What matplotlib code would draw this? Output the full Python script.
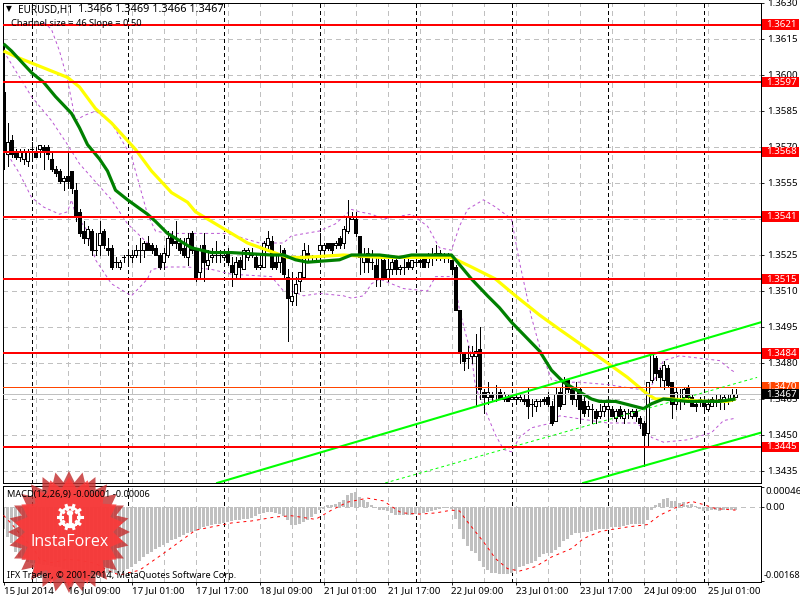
import numpy as np
import matplotlib
matplotlib.use("Agg")
import matplotlib.pyplot as plt
from matplotlib.patches import Rectangle, Polygon, Circle
from matplotlib.lines import Line2D
from matplotlib.transforms import blended_transform_factory

plt.rcParams['font.family'] = ['Noto Sans', 'DejaVu Sans']
plt.rcParams['lines.antialiased'] = False
plt.rcParams['patch.antialiased'] = False

# hourly candles, EURUSD
opens = [1.3593,1.3567,1.3573,1.3568,1.3566,1.3565,1.3564,1.3569,1.3568,1.3569,
         1.3570,1.3570,1.3565,1.3561,1.3560,1.3556,1.3558,1.3560,1.3552,1.3543,
         1.3535,1.3532,1.3535,1.3527,1.3529,1.3535,1.3528,1.3528,1.3522,1.3520,
         1.3524,1.3525,1.3524,1.3525,1.3527,1.3527,1.3530,1.3529,1.3528,1.3525,
         1.3522,1.3525,1.3533,1.3531,1.3530,1.3528,1.3524,1.3534,1.3527,1.3518,
         1.3529,1.3521,1.3524,1.3525,1.3525,1.3524,1.3526,1.3521,1.3517,1.3523,
         1.3519,1.3524,1.3526,1.3524,1.3520,1.3520,1.3529,1.3531,1.3522,1.3522,
         1.3527,1.3516,1.3506,1.3509,1.3514,1.3516,1.3526,1.3524,1.3523,1.3527,
         1.3527,1.3530,1.3530,1.3529,1.3532,1.3530,1.3535,1.3540,1.3540,1.3533,
         1.3522,1.3526,1.3522,1.3521,1.3515,1.3523,1.3515,1.3519,1.3523,1.3519,
         1.3520,1.3522,1.3520,1.3522,1.3523,1.3524,1.3522,1.3524,1.3526,1.3526,
         1.3525,1.3524,1.3523,1.3520,1.3502,1.3484,1.3482,1.3483,1.3483,1.3486,
         1.3468,1.3466,1.3467,1.3467,1.3468,1.3465,1.3466,1.3465,1.3465,1.3465,
         1.3465,1.3465,1.3463,1.3462,1.3464,1.3465,1.3466,1.3462,1.3456,1.3468,
         1.3463,1.3473,1.3469,1.3465,1.3469,1.3464,1.3461,1.3461,1.3460,1.3458,
         1.3460,1.3461,1.3461,1.3457,1.3461,1.3457,1.3459,1.3458,1.3460,1.3457,
         1.3455,1.3451,1.3473,1.3482,1.3477,1.3473,1.3478,1.3472,1.3463,1.3467,
         1.3466,1.3470,1.3466,1.3463,1.3465,1.3464,1.3461,1.3462,1.3464,1.3465,
         1.3464,1.3465,1.3465,1.3466]
closes = [1.3568,1.3572,1.3567,1.3566,1.3568,1.3568,1.3568,1.3569,1.3566,1.3571,
          1.3568,1.3567,1.3561,1.3559,1.3556,1.3557,1.3556,1.3553,1.3541,1.3534,
          1.3532,1.3536,1.3527,1.3527,1.3534,1.3529,1.3527,1.3520,1.3522,1.3522,
          1.3524,1.3525,1.3525,1.3527,1.3527,1.3530,1.3527,1.3527,1.3525,1.3520,
          1.3526,1.3532,1.3530,1.3530,1.3527,1.3525,1.3532,1.3527,1.3516,1.3527,
          1.3522,1.3523,1.3525,1.3525,1.3525,1.3525,1.3522,1.3518,1.3522,1.3520,
          1.3527,1.3527,1.3525,1.3520,1.3521,1.3530,1.3532,1.3520,1.3520,1.3526,
          1.3517,1.3507,1.3508,1.3513,1.3518,1.3527,1.3524,1.3524,1.3523,1.3529,
          1.3529,1.3528,1.3527,1.3530,1.3529,1.3536,1.3541,1.3541,1.3534,1.3524,
          1.3524,1.3522,1.3522,1.3515,1.3524,1.3515,1.3519,1.3522,1.3519,1.3520,
          1.3520,1.3520,1.3523,1.3522,1.3522,1.3520,1.3524,1.3524,1.3524,1.3524,
          1.3524,1.3524,1.3519,1.3502,1.3484,1.3481,1.3482,1.3484,1.3485,1.3469,
          1.3466,1.3468,1.3466,1.3467,1.3465,1.3467,1.3464,1.3466,1.3466,1.3466,
          1.3464,1.3462,1.3463,1.3464,1.3464,1.3464,1.3463,1.3455,1.3467,1.3462,
          1.3473,1.3469,1.3465,1.3469,1.3461,1.3459,1.3462,1.3461,1.3457,1.3460,
          1.3462,1.3462,1.3458,1.3460,1.3458,1.3460,1.3459,1.3460,1.3458,1.3455,
          1.3450,1.3472,1.3484,1.3476,1.3474,1.3479,1.3471,1.3463,1.3468,1.3467,
          1.3469,1.3466,1.3462,1.3462,1.3465,1.3462,1.3463,1.3465,1.3464,1.3464,
          1.3466,1.3465,1.3467,1.3467]
highs = [1.3612,1.3580,1.3575,1.3569,1.3569,1.3569,1.3569,1.3572,1.3570,1.3571,
         1.3571,1.3571,1.3568,1.3562,1.3561,1.3558,1.3568,1.3560,1.3555,1.3544,
         1.3539,1.3537,1.3536,1.3534,1.3539,1.3536,1.3532,1.3529,1.3524,1.3523,
         1.3525,1.3526,1.3527,1.3529,1.3532,1.3531,1.3533,1.3530,1.3529,1.3526,
         1.3528,1.3535,1.3535,1.3539,1.3532,1.3532,1.3534,1.3535,1.3528,1.3529,
         1.3534,1.3527,1.3528,1.3531,1.3527,1.3527,1.3528,1.3524,1.3524,1.3524,
         1.3528,1.3528,1.3528,1.3525,1.3525,1.3531,1.3535,1.3533,1.3525,1.3529,
         1.3528,1.3519,1.3518,1.3516,1.3518,1.3530,1.3529,1.3525,1.3524,1.3534,
         1.3530,1.3530,1.3530,1.3531,1.3533,1.3537,1.3548,1.3543,1.3543,1.3533,
         1.3528,1.3528,1.3527,1.3525,1.3525,1.3525,1.3524,1.3524,1.3524,1.3521,
         1.3524,1.3524,1.3523,1.3525,1.3524,1.3525,1.3526,1.3528,1.3529,1.3527,
         1.3526,1.3526,1.3524,1.3521,1.3502,1.3484,1.3487,1.3487,1.3492,1.3495,
         1.3469,1.3472,1.3468,1.3471,1.3469,1.3468,1.3467,1.3467,1.3467,1.3467,
         1.3467,1.3470,1.3465,1.3465,1.3465,1.3466,1.3468,1.3464,1.3470,1.3470,
         1.3474,1.3473,1.3470,1.3472,1.3470,1.3466,1.3464,1.3463,1.3461,1.3463,
         1.3464,1.3465,1.3462,1.3461,1.3462,1.3461,1.3461,1.3461,1.3461,1.3458,
         1.3456,1.3472,1.3484,1.3483,1.3478,1.3481,1.3479,1.3472,1.3470,1.3469,
         1.3470,1.3471,1.3467,1.3464,1.3466,1.3465,1.3465,1.3466,1.3467,1.3467,
         1.3467,1.3467,1.3469,1.3469]
lows = [1.3561,1.3562,1.3566,1.3565,1.3564,1.3563,1.3562,1.3566,1.3566,1.3566,
        1.3561,1.3565,1.3560,1.3558,1.3555,1.3552,1.3553,1.3551,1.3539,1.3533,
        1.3530,1.3529,1.3525,1.3525,1.3525,1.3528,1.3525,1.3519,1.3520,1.3519,
        1.3522,1.3522,1.3522,1.3524,1.3522,1.3524,1.3527,1.3526,1.3525,1.3519,
        1.3519,1.3524,1.3529,1.3528,1.3526,1.3524,1.3521,1.3526,1.3514,1.3515,
        1.3514,1.3519,1.3522,1.3522,1.3522,1.3523,1.3521,1.3512,1.3515,1.3516,
        1.3519,1.3523,1.3524,1.3519,1.3519,1.3520,1.3527,1.3519,1.3519,1.3518,
        1.3516,1.3489,1.3504,1.3504,1.3510,1.3515,1.3522,1.3522,1.3522,1.3523,
        1.3524,1.3527,1.3526,1.3528,1.3528,1.3528,1.3534,1.3540,1.3533,1.3517,
        1.3518,1.3518,1.3519,1.3512,1.3512,1.3515,1.3514,1.3517,1.3517,1.3517,
        1.3517,1.3519,1.3519,1.3521,1.3520,1.3520,1.3520,1.3521,1.3523,1.3523,
        1.3522,1.3522,1.3517,1.3502,1.3480,1.3477,1.3478,1.3480,1.3462,1.3465,
        1.3459,1.3463,1.3464,1.3464,1.3465,1.3464,1.3464,1.3465,1.3463,1.3464,
        1.3463,1.3457,1.3458,1.3460,1.3462,1.3463,1.3462,1.3454,1.3456,1.3461,
        1.3463,1.3468,1.3463,1.3462,1.3455,1.3458,1.3458,1.3455,1.3455,1.3457,
        1.3458,1.3456,1.3458,1.3456,1.3457,1.3455,1.3457,1.3457,1.3456,1.3453,
        1.3437,1.3445,1.3472,1.3473,1.3470,1.3469,1.3470,1.3457,1.3461,1.3461,
        1.3463,1.3464,1.3462,1.3460,1.3462,1.3461,1.3460,1.3462,1.3462,1.3461,
        1.3461,1.3463,1.3464,1.3466]

# moving averages, read at their bends
green_x = [0,2,7,10,13,17,19,21,24,26,28,31,36,38,41,44,47,52,57,67,70,73,76,84,87,94,99,102,112,114,
           117,121,124,127,134,137,140,142,147,149,153,160,162,165,171,177,179,183]
green_y = [1.3613,1.3610,1.3601,1.3597,1.3591,1.3584,1.3578,1.3571,1.3565,1.3560,1.3552,1.3548,1.3542,
           1.3539,1.3534,1.3531,1.3528,1.3526,1.3526,1.3525,1.3525,1.3523,1.3522,1.3523,1.3525,1.3525,
           1.3524,1.3525,1.3525,1.3521,1.3515,1.3508,1.3503,1.3497,1.3485,1.3477,1.3472,1.3470,1.3465,
           1.3464,1.3464,1.3461,1.3463,1.3465,1.3464,1.3464,1.3464,1.3465]
yellow_x = [0,4,10,16,19,23,27,33,37,42,46,48,53,57,61,66,71,75,85,94,103,112,117,123,128,134,139,145,
            151,156,161,163,167,176,181,183]
yellow_y = [1.3610,1.3607,1.3603,1.3599,1.3595,1.3586,1.3580,1.3569,1.3560,1.3551,1.3547,1.3543,1.3538,
            1.3534,1.3530,1.3527,1.3524,1.3524,1.3525,1.3524,1.3524,1.3524,1.3520,1.3515,1.3508,1.3500,
            1.3494,1.3487,1.3480,1.3474,1.3467,1.3465,1.3465,1.3464,1.3464,1.3465]

# purple bands
upper_x = [10,12,14,16,18,20,23,27,32,36,38,41,49,56,64,67,70,72,79,83,87,89,92,95,102,106,109,112,114,116,
           120,123,127,129,132,134,137,140,144,151,159,161,165,169,179,182,183]
upper_y = [1.3622,1.3619,1.3610,1.3598,1.3581,1.3583,1.3585,1.3580,1.3566,1.3542,1.3535,1.3534,1.3534,1.3534,
           1.3530,1.3530,1.3530,1.3533,1.3535,1.3538,1.3544,1.3543,1.3542,1.3540,1.3542,1.3537,1.3528,1.3527,
           1.3537,1.3544,1.3548,1.3545,1.3540,1.3522,1.3499,1.3487,1.3473,1.3472,1.3472,1.3471,1.3469,1.3467,
           1.3481,1.3483,1.3481,1.3477,1.3476]
mid_x = [0,7,12,16,19,27,31,36]
mid_y = [1.3610,1.3591,1.3581,1.3571,1.3563,1.3548,1.3538,1.3530]
lower_x = [1,4,7,10,14,16,17,18,21,23,27,32,36,37,41,46,52,57,67,70,72,75,79,85,87,90,92,94,100,106,108,112,113,
           114,117,118,120,123,125,127,129,132,137,139,143,151,158,161,162,165,171,177,180,183]
lower_y = [1.3567,1.3559,1.3549,1.3545,1.3542,1.3543,1.3548,1.3542,1.3535,1.3523,1.3513,1.3508,1.3515,1.3519,
           1.3520,1.3520,1.3519,1.3517,1.3516,1.3510,1.3510,1.3508,1.3509,1.3508,1.3507,1.3508,1.3513,1.3515,
           1.3511,1.3510,1.3516,1.3516,1.3512,1.3502,1.3483,1.3470,1.3462,1.3450,1.3444,1.3443,1.3449,1.3453,
           1.3455,1.3458,1.3457,1.3455,1.3455,1.3452,1.3449,1.3447,1.3448,1.3451,1.3456,1.3457]

# regression channel ends: (bar, price)
chan_top_x = [53.4, 189.4]
chan_top_y = [1.3430, 1.3497]
chan_low_x = [144.9, 189.4]
chan_low_y = [1.3430, 1.3451]
chan_mid_x = [95.4, 188.4]
chan_mid_y = [1.3430, 1.3474]

levels = [1.3621, 1.3597, 1.3568, 1.3541, 1.3515, 1.3484, 1.3445]
price_ticks = [1.3630, 1.3615, 1.3600, 1.3585, 1.3570, 1.3555, 1.3540, 1.3525, 1.3510,
               1.3495, 1.3480, 1.3465, 1.3450, 1.3435]

# MACD histogram and signal, in 1e-5
hist = [-54,-75,-91,-112,-126,-133,-137,-139,-141,-143,
        -144,-145,-147,-149,-151,-154,-155,-158,-161,-163,
        -164,-166,-168,-168,-168,-166,-165,-164,-164,-162,
        -159,-154,-149,-143,-134,-126,-118,-112,-106,-101,
        -95,-90,-83,-79,-75,-71,-66,-63,-60,-56,
        -51,-48,-46,-43,-42,-40,-37,-35,-33,-33,
        -31,-29,-27,-22,-18,-15,-13,-12,-15,-18,
        -23,-33,-46,-46,-43,-37,-33,-25,-17,-8,
        -4,4,6,8,12,17,29,35,37,25,
        18,12,6,-2,-8,-8,-10,-15,-19,-19,
        -21,-19,-19,-17,-17,-15,-12,-10,-7,-4,
        -2,-2,-4,-29,-56,-81,-98,-110,-116,-134,
        -149,-158,-164,-166,-168,-168,-168,-166,-159,-151,
        -148,-143,-139,-134,-126,-118,-116,-114,-108,-100,
        -85,-79,-71,-66,-64,-62,-62,-60,-58,-56,
        -56,-54,-51,-51,-50,-47,-44,-43,-43,-43,
        -42,-33,-7,4,11,21,22,15,14,11,
        12,6,8,2,-4,-10,-10,-7,-8,-10,
        -8,-6,-8,-7]
signal_x = [0,2,4,8,9,12,16,19,23,26,29,34,37,40,44,48,52,57,62,68,72,78,82,86,91,95,99,100,104,108,112,114,
            116,120,123,126,129,133,137,142,145,149,151,156,161,164,168,172,175,178,183]
signal_y = [-21,-42,-66,-112,-131,-139,-131,-133,-141,-158,-170,-158,-137,-116,-87,-58,-50,-40,-35,-25,-22,
            -31,-8,12,22,15,-12,-15,-18,-15,-8,-10,-37,-87,-129,-154,-160,-149,-125,-104,-79,-62,-58,-50,
            -44,-21,-2,14,6,-4,-8]

date_ticks = list(range(0, 177, 16))
date_labels = ['15 Jul 2014', '16 Jul 09:00', '17 Jul 01:00', '17 Jul 17:00', '18 Jul 09:00', '21 Jul 01:00',
               '21 Jul 17:00', '22 Jul 09:00', '23 Jul 01:00', '23 Jul 17:00', '24 Jul 09:00', '25 Jul 01:00']

GRID = '#c0c0c0'
PURPLE = '#ba55d3'
FS = 7
THIN = 0.6

fig = plt.figure(figsize=(8, 6), dpi=100)
ax = fig.add_axes([3/800, 1-483/600, 758/800, 480/600])
ax2 = fig.add_axes([3/800, 1-582/600, 758/800, 96/600])

xlim = (-0.125, 189.375)
sep_lines = range(7, 184, 24)
for a in (ax, ax2):
    a.set_xlim(xlim)
    for k in range(8, 184, 8):
        a.axvline(k, color=GRID, lw=THIN, dashes=(5, 5), zorder=1)
    for k in sep_lines:
        a.axvline(k, color='black', lw=THIN, dashes=(4, 4), zorder=1.5)
    for s in a.spines.values():
        s.set_linewidth(0.7)

# price panel
ax.set_ylim(1.3430, 1.3630)
for p in price_ticks:
    ax.axhline(p, color=GRID, lw=THIN, dashes=(5, 5), zorder=1)

ax.plot(upper_x, upper_y, color=PURPLE, lw=0.7, dashes=(3, 3), zorder=2, antialiased=True)
ax.plot(mid_x, mid_y, color=PURPLE, lw=0.7, dashes=(3, 3), zorder=2, antialiased=True)
ax.plot(lower_x, lower_y, color=PURPLE, lw=0.7, dashes=(3, 3), zorder=2, antialiased=True)

bars = np.arange(len(opens))
ax.vlines(bars, lows, highs, color='black', lw=THIN, zorder=3)
for i in bars:
    o, c = opens[i], closes[i]
    if o == c:
        ax.hlines(o, i-0.4, i+0.4, color='black', lw=THIN, zorder=3.2)
    else:
        ax.bar(i, abs(c-o), bottom=min(o, c), width=0.55, zorder=3.1, linewidth=THIN, edgecolor='black',
               facecolor='white' if c > o else 'black')

ax.plot(yellow_x, yellow_y, color='#ffff00', lw=2.3, zorder=4, solid_capstyle='butt', antialiased=True)
ax.plot(green_x, green_y, color='#008000', lw=2.3, zorder=4.1, solid_capstyle='butt', antialiased=True)

ax.plot(chan_top_x, chan_top_y, color='#00ff00', lw=1.5, zorder=5, antialiased=True)
ax.plot(chan_low_x, chan_low_y, color='#00ff00', lw=1.5, zorder=5, antialiased=True)
ax.plot(chan_mid_x, chan_mid_y, color='#00ff00', lw=0.7, dashes=(3, 3), zorder=5, antialiased=True)

ax.axhline(1.3467, color='#c0c0c0', lw=THIN, zorder=4.5)
ax.axhline(1.3470, color='#ff4500', lw=THIN, zorder=4.6)
for p in levels:
    ax.axhline(p, color='#ff0000', lw=1.2, zorder=6)

ax.set_xticks([])
ax.yaxis.tick_right()
ax.set_yticks(price_ticks)
ax.set_yticklabels(['%.4f' % p for p in price_ticks], fontsize=FS)
ax.tick_params(axis='y', length=2.2, width=THIN, pad=2)

# price tags on the right scale
tag = blended_transform_factory(ax.transAxes, ax.transData)
tag_w = 37/758
def price_tag(p, fc, h=10.5):
    hp = h/2.4/10000
    ax.add_patch(Rectangle((1.001, p-hp/2), tag_w, hp, transform=tag, facecolor=fc, edgecolor='none',
                           clip_on=False, zorder=20))
    ax.text(1+5/758, p, '%.4f' % p, transform=tag, color='white', fontsize=FS, va='center', ha='left',
            clip_on=False, zorder=21)
for p in levels:
    price_tag(p, '#ff0000')
price_tag(1.3470, '#ff4500')
price_tag(1.3467, '#000000')

# MACD panel
ax2.set_ylim(-0.001874, 0.000523)
ax2.axhline(0, color=GRID, lw=THIN, dashes=(5, 5), zorder=1)
ax2.bar(bars, np.array(hist)*1e-5, width=0.7, color='#c0c0c0', zorder=2)
ax2.plot(signal_x, np.array(signal_y)*1e-5, color='#ff0000', lw=0.7, dashes=(3, 4), zorder=3, antialiased=True)
ax2.yaxis.tick_right()
ax2.set_yticks([0.00050, 0, -0.00186])
ax2.set_yticklabels(['', '', ''])
ax2.tick_params(axis='y', length=2.2, width=THIN)
ax2.set_xticks(date_ticks)
ax2.set_xticklabels([])
ax2.tick_params(axis='x', length=2.2, width=THIN)

def ptext(x, y, s, **kw):
    fig.text(x/800, 1-y/600, s, va='center', ha=kw.pop('ha', 'left'), **kw)

# date labels go on the figure so they stay above the stamp
for t, s in zip(date_ticks, date_labels):
    ptext(3.5+4*t, 591, s, fontsize=FS, zorder=9)

ptext(765, 492, '0.00046', fontsize=FS)
ptext(765, 507, '0.00', fontsize=FS)
ptext(764, 576, '-0.00168', fontsize=6.5)
ptext(6, 10, '▼', fontsize=5.5)
ptext(18, 10, 'EURUSD,H1', fontsize=7.2)
ptext(78, 10, '1.3466 1.3469 1.3466 1.3467', fontsize=7.9)
ptext(11, 23, 'Channel size = 46 Slope = 0.50', fontsize=6.7)
ptext(7, 495, 'MACD(12,26,9) -0.00001 -0.00006', fontsize=6.6, zorder=9)
ptext(7, 575, 'IFX Trader, © 2001-2014, MetaQuotes Software Corp.', fontsize=6.6, zorder=9)

# InstaForex stamp over the corner
def star(cx, cy, r1, r2, n):
    ang = np.linspace(0, 2*np.pi, 2*n, endpoint=False) - np.pi/2
    rad = np.where(np.arange(2*n) % 2 == 0, r1, r2)
    return np.column_stack([(cx+rad*np.cos(ang))/800, 1-(cy+rad*np.sin(ang))/600])

cx, cy = 69, 532
fig.add_artist(Polygon(star(cx, cy, 61, 50, 28), closed=True, facecolor='#c43030', edgecolor='none', alpha=0.82,
                       transform=fig.transFigure, antialiased=True, zorder=5))
fig.add_artist(Polygon(star(cx, cy, 55, 44, 18), closed=True, facecolor='#ff3a3a', edgecolor='none', alpha=0.82,
                       transform=fig.transFigure, antialiased=True, zorder=6))

gx, gy = 70, 517
for t in np.linspace(0, 2*np.pi, 10, endpoint=False):
    fig.add_artist(Line2D([(gx+8*np.cos(t))/800, (gx+12*np.cos(t))/800], [1-(gy+8*np.sin(t))/600, 1-(gy+12*np.sin(t))/600],
                          color='white', lw=2.2, transform=fig.transFigure, zorder=7, antialiased=True))
fig.add_artist(Line2D([(gx+9.5*np.cos(t))/800 for t in np.linspace(0.8, 2*np.pi+2.3, 40)],
                      [1-(gy+9.5*np.sin(t))/600 for t in np.linspace(0.8, 2*np.pi+2.3, 40)],
                      color='white', lw=1.8, transform=fig.transFigure, zorder=7, antialiased=True))
fig.add_artist(Line2D([gx/800, gx/800], [1-(gy-1)/600, 1-(gy+9)/600], color='white', lw=2.4, transform=fig.transFigure,
                      zorder=7, antialiased=True))
fig.add_artist(Circle((gx/800, 1-(gy-4)/600), 0.0032, color='white', transform=fig.transFigure, zorder=7, antialiased=True))

ptext(cx+1, 542, 'InstaForex', fontsize=11.5, color='white', ha='center', family='Open Sans', zorder=8)

fig.savefig('out.png', dpi=100)
